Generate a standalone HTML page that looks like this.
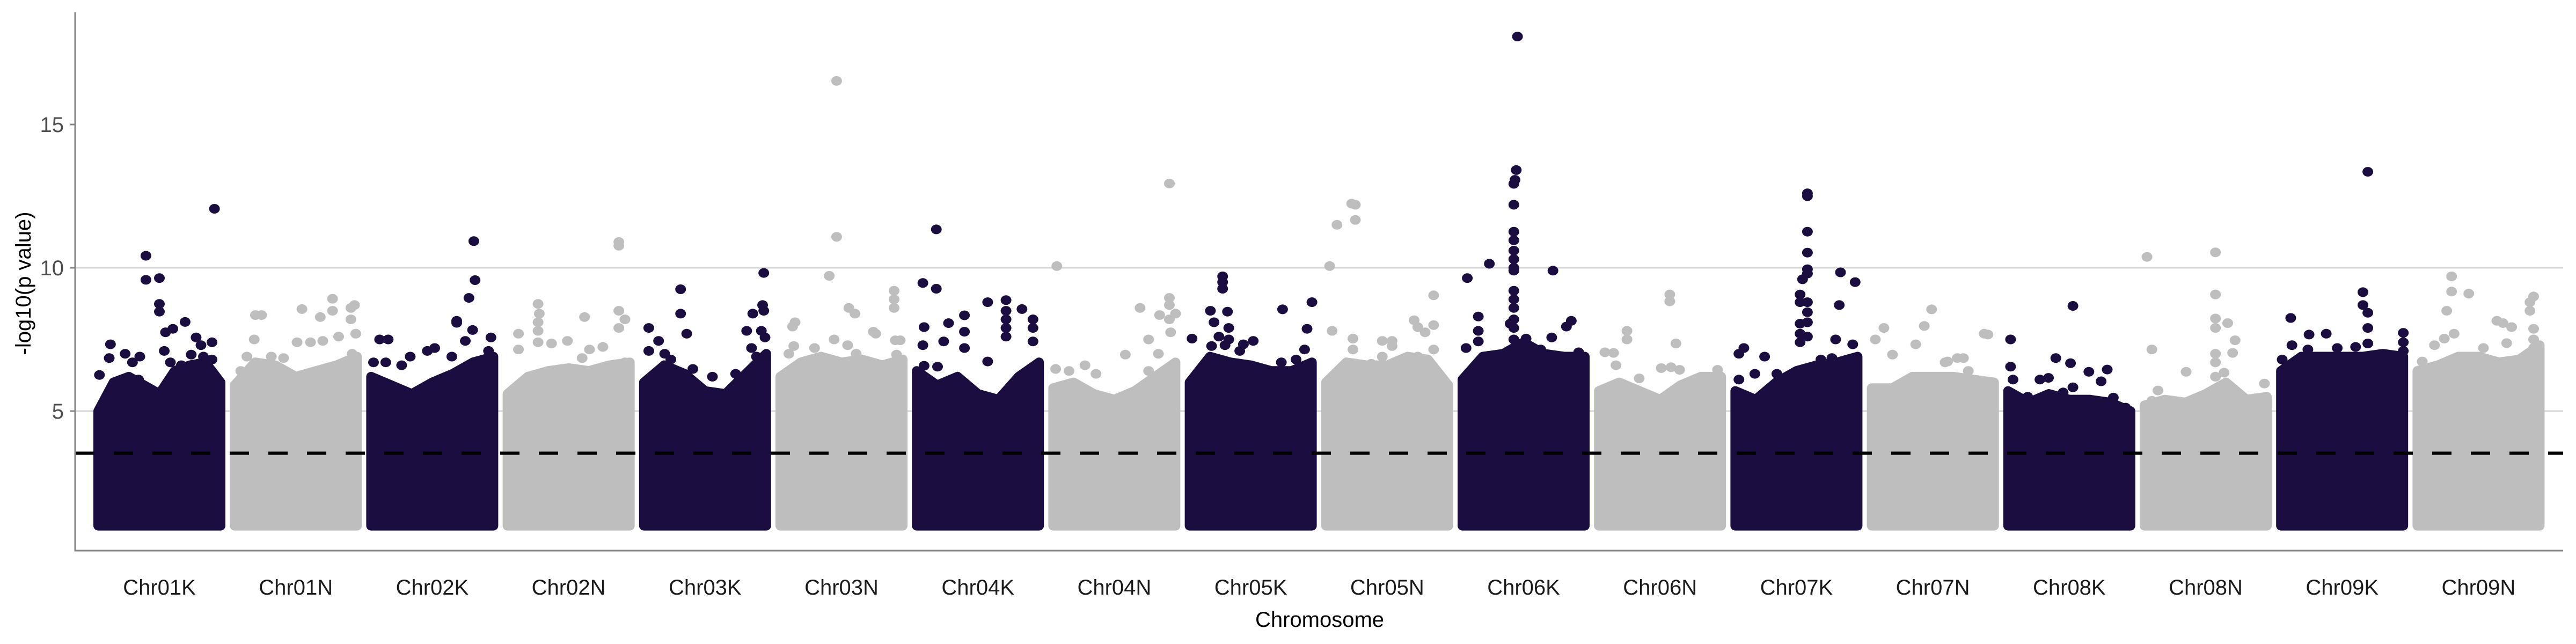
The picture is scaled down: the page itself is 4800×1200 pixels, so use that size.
<!DOCTYPE html>
<html><head><meta charset="utf-8"><style>
html,body{margin:0;padding:0;background:#fff;}
svg{display:block;font-family:"Liberation Sans",Arial,sans-serif;}
</style></head><body>
<svg id="chart" xmlns="http://www.w3.org/2000/svg" width="4800" height="1200" viewBox="0 0 4800 1200">
<g id="grid"></g>
<g id="bulk"></g>
<g id="hits"></g>
<g id="axes"></g>
</svg>
<script>
const chromosomes = ["Chr01K","Chr01N","Chr02K","Chr02N","Chr03K","Chr03N","Chr04K","Chr04N","Chr05K","Chr05N","Chr06K","Chr06N","Chr07K","Chr07N","Chr08K","Chr08N","Chr09K","Chr09N"];
const yTicks = [5,10,15];
const threshold = 3.53;
const envelopes = [
 [5.0,6.0,6.2,5.9,5.6,6.4,6.6,6.7,6.0],
 [5.9,6.7,6.6,6.2,6.4,6.6,6.9],
 [6.2,5.9,5.6,6.0,6.3,6.7,6.9],
 [5.6,6.2,6.4,6.5,6.4,6.6,6.7],
 [6.0,6.6,6.3,5.7,5.6,6.3,7.0],
 [6.2,6.7,6.9,6.7,6.8,6.6,6.8],
 [6.4,5.9,6.2,5.6,5.4,6.2,6.7],
 [5.8,6.0,5.6,5.4,5.7,6.2,6.7],
 [6.0,6.9,6.7,6.6,6.4,6.4,6.7],
 [6.0,6.7,6.6,6.6,6.9,6.8,5.9],
 [6.1,6.9,7.0,7.4,7.0,6.9,6.9],
 [5.7,6.0,5.7,5.4,5.9,6.2,6.2],
 [5.7,5.4,6.0,6.4,6.6,6.7,6.9],
 [5.8,5.8,6.2,6.2,6.2,6.1,6.0],
 [5.7,5.3,5.6,5.4,5.4,5.3,5.0],
 [5.2,5.4,5.3,5.6,6.0,5.4,5.5],
 [6.4,6.9,6.9,6.9,6.9,7.0,6.9],
 [6.4,6.6,6.9,6.9,6.7,6.8,7.3]
];
const hits = [
 [[.95,12.06],[.39,10.42],[.39,9.58],[.50,9.64],[.50,8.74],[.50,8.47],[.71,8.11],[.10,7.33],[.80,7.57],[.93,7.4],[.61,7.87],[.55,7.75],[.01,6.26],[.09,6.85],[.22,7.0],[.34,6.9],[.28,6.7],[.33,6.1],[.76,6.97],[.86,6.9],[.91,6.4],[.68,6.6],[.59,6.7],[.54,7.1],[.93,6.8],[.84,7.3]],
 [[.17,8.35],[.22,8.35],[.55,8.56],[.70,8.28],[.80,8.92],[.80,8.5],[.95,8.6],[.98,8.7],[.95,8.2],[.99,7.7],[.85,7.6],[.16,7.5],[.51,7.4],[.62,7.4],[.72,7.45],[.40,6.85],[.05,6.4],[.38,5.5],[.30,6.9],[.10,6.9],[.96,7.0]],
 [[.84,10.93],[.85,9.57],[.80,8.95],[.70,8.15],[.70,8.08],[.83,7.83],[.77,7.45],[.98,7.57],[.07,7.5],[.14,7.5],[.32,6.9],[.52,7.2],[.46,7.1],[.02,6.7],[.12,6.7],[.66,6.9],[.96,7.1],[.25,6.6]],
 [[.91,10.9],[.91,10.77],[.25,8.74],[.26,8.4],[.63,8.28],[.91,8.5],[.96,8.2],[.91,7.9],[.09,7.7],[.09,7.15],[.25,7.4],[.36,7.36],[.49,7.45],[.67,7.15],[.78,7.24],[.61,6.85],[.96,6.7],[.25,8.1],[.25,7.8]],
 [[.30,9.25],[.30,8.4],[.35,7.7],[.04,7.9],[.12,7.45],[.04,7.1],[.22,6.8],[.40,6.47],[.98,9.82],[.97,8.7],[.89,8.4],[.98,8.5],[.84,7.8],[.96,7.8],[.99,7.57],[.75,6.3],[.56,6.2],[.88,7.2],[.92,6.9],[.17,7.0]],
 [[.46,16.52],[.46,11.08],[.40,9.72],[.93,9.2],[.93,8.9],[.93,8.6],[.56,8.6],[.61,8.4],[.12,8.1],[.10,7.95],[.76,7.77],[.78,7.7],[.44,7.5],[.94,7.47],[.98,7.47],[.11,7.27],[.28,7.2],[.07,7.0],[.95,6.97],[.55,7.3],[.62,7.0]],
 [[.16,11.34],[.05,9.47],[.16,9.27],[.58,8.8],[.73,8.87],[.73,8.5],[.86,8.56],[.95,8.2],[.39,8.34],[.26,8.07],[.06,7.93],[.39,7.77],[.22,7.43],[.05,7.3],[.95,7.43],[.73,7.9],[.58,6.73],[.06,6.58],[.17,6.55],[.73,8.2],[.73,7.6],[.95,7.9],[.39,7.2]],
 [[.03,10.06],[.95,12.94],[.95,8.95],[.95,8.7],[.71,8.6],[.87,8.35],[1.0,8.4],[.96,7.75],[.78,7.5],[.59,6.97],[.02,6.47],[.26,6.6],[.13,6.4],[.35,6.3],[.78,6.4],[.86,7.0],[.95,8.2]],
 [[.27,9.7],[.27,9.5],[.27,9.27],[.17,8.5],[.31,8.47],[.76,8.55],[1.0,8.8],[.96,7.87],[.02,7.53],[.20,8.1],[.32,7.9],[.32,7.5],[.44,7.33],[.52,7.45],[.41,7.1],[.94,7.15],[.87,6.8],[.75,6.7],[.18,7.27],[.24,7.6],[.29,7.3]],
 [[.03,10.06],[.09,11.5],[.21,12.24],[.24,12.2],[.24,11.67],[.88,9.04],[.72,8.17],[.88,8.0],[.75,7.93],[.81,7.75],[.22,7.53],[.46,7.45],[.54,7.45],[.54,7.27],[.22,7.15],[.88,7.15],[.75,6.9],[.46,6.9],[.37,6.65],[.05,7.8]],
 [[.45,18.07],[.44,13.41],[.43,13.07],[.42,12.93],[.42,12.2],[.42,11.26],[.42,10.96],[.42,10.6],[.42,10.3],[.42,10.0],[.42,9.9],[.04,9.64],[.22,10.14],[.74,9.9],[.42,9.2],[.42,8.6],[.42,8.2],[.42,7.5],[.13,8.3],[.13,7.8],[.85,7.95],[.89,8.15],[.52,7.53],[.73,7.57],[.13,7.43],[.03,7.2],[.95,7.05],[.64,7.15],[.39,8.05],[.42,8.9],[.42,7.9]],
 [[.58,9.07],[.58,8.83],[.23,7.8],[.23,7.5],[.63,7.36],[.05,7.05],[.12,7.03],[.51,6.5],[.59,6.53],[.66,6.44],[.97,6.44],[.33,6.14],[.14,6.6]],
 [[.59,12.6],[.59,12.5],[.59,11.26],[.59,10.53],[.59,9.95],[.59,9.8],[.55,9.6],[.86,9.84],[.98,9.5],[.85,8.7],[.53,9.07],[.53,8.8],[.59,8.8],[.59,8.45],[.53,8.05],[.53,7.7],[.53,7.4],[.82,7.5],[.96,7.33],[.70,6.8],[.07,7.2],[.03,7.0],[.24,6.9],[.16,6.3],[.03,6.1],[.34,6.3],[.46,6.14],[.79,6.85],[.59,8.1],[.59,7.6]],
 [[.03,7.5],[.10,7.9],[.49,8.55],[.43,7.97],[.36,7.33],[.17,6.97],[.60,6.7],[.75,6.85],[.92,7.7],[.95,7.67],[.62,6.73],[.70,6.85],[.79,6.4],[.58,6.0]],
 [[.53,8.67],[.02,7.5],[.02,6.55],[.39,6.85],[.51,6.67],[.81,6.45],[.66,6.37],[.76,6.04],[.26,6.1],[.33,6.16],[.04,6.1],[.45,5.65],[.53,5.83],[.86,5.47],[.96,5.12],[.16,5.5]],
 [[.02,10.38],[.58,10.54],[.58,9.07],[.58,8.23],[.58,7.9],[.68,8.07],[.06,7.15],[.74,7.47],[.72,7.03],[.34,6.37],[.65,6.34],[.98,5.96],[.11,5.72],[.06,5.36],[.58,7.0],[.58,6.7],[.58,6.2]],
 [[.71,13.35],[.67,9.15],[.67,8.7],[.71,8.43],[.08,8.25],[.71,7.9],[1.0,7.73],[1.0,7.4],[.99,6.8],[.23,7.67],[.37,7.7],[.09,7.3],[.46,7.2],[.71,7.36],[.61,7.24],[.01,6.8],[.49,6.77],[.22,7.15],[.28,6.9],[1.0,7.1]],
 [[.28,9.7],[.28,9.17],[.42,9.1],[.24,8.5],[.95,9.0],[.92,8.8],[.92,8.5],[.65,8.15],[.70,8.07],[.77,7.93],[.95,7.87],[.30,7.7],[.22,7.53],[.14,7.3],[.73,7.37],[.54,7.2],[.46,6.6],[.04,6.73],[.95,7.5],[.36,6.37],[.95,7.2]]
];
</script>
<script>
const NS = "http://www.w3.org/2000/svg";
const X0 = 140, X1 = 4776, YAXIS = 1026;
const blockStart = 173, blockStep = 254.2, innerW = 228, R = 9;
const DARK = "#1b0d40", LIGHT = "#bebebe";
function yScale(v){ return 1033 - 53.4 * v; }
function xScale(ci, f){ return blockStart + ci * blockStep + 10 + f * innerW; }
function mk(tag, attrs, parent){
  const el = document.createElementNS(NS, tag);
  for (const k in attrs) el.setAttribute(k, attrs[k]);
  parent.appendChild(el);
  return el;
}
const grid = document.getElementById('grid');
const bulk = document.getElementById('bulk');
const hitsG = document.getElementById('hits');
const axes = document.getElementById('axes');

[5,10].forEach(v => {
  const ln = mk('line', {x1:X0, x2:X1, y1:yScale(v), y2:yScale(v), stroke:'#d6d6d6', 'stroke-width':3}, grid);
  
  
});

chromosomes.forEach((name, ci) => {
  const color = ci % 2 === 0 ? DARK : LIGHT;
  const env = envelopes[ci];
  const pts = [];
  pts.push([xScale(ci,0), yScale(1)]);
  env.forEach((v, k) => pts.push([xScale(ci, k/(env.length-1)), yScale(v)]));
  pts.push([xScale(ci,1), yScale(1)]);
  const poly = mk('polygon', {points: pts.map(p => p[0].toFixed(1)+','+p[1].toFixed(1)).join(' '), fill: color, stroke: color, 'stroke-width': 2*R, 'stroke-linejoin':'round'}, bulk);
  
  
  hits[ci].forEach(h => {
    const c = mk('ellipse', {cx: xScale(ci, h[0]).toFixed(1), cy: yScale(h[1]).toFixed(1), rx: 10, ry: 9, fill: color}, hitsG);
    
    
  });
  const t = mk('text', {x: (blockStart + ci*blockStep + 124).toFixed(1), y: 1108, 'font-size': 40, fill: '#1a1a1a', 'text-anchor': 'middle'}, axes);
  t.textContent = name;
  
  
});

const th = mk('line', {x1:X0, x2:X1, y1:yScale(threshold), y2:yScale(threshold), stroke:'#000', 'stroke-width':6, 'stroke-dasharray':'36 36'}, axes);



const ya = mk('line', {x1:X0, x2:X0, y1:23, y2:YAXIS+1, stroke:'#858585', 'stroke-width':3}, axes);


const xa = mk('line', {x1:X0-1.5, x2:X1, y1:YAXIS, y2:YAXIS, stroke:'#858585', 'stroke-width':3}, axes);



yTicks.forEach(v => {
  const tk = mk('line', {x1:X0-9, x2:X0, y1:yScale(v), y2:yScale(v), stroke:'#858585', 'stroke-width':3}, axes);
  
  
  const tl = mk('text', {x: 119, y: yScale(v) + 14, 'font-size': 40, fill: '#4d4d4d', 'text-anchor': 'end'}, axes);
  tl.textContent = v;
  
  
});

const xt = mk('text', {x: 2459, y: 1168, 'font-size': 40, fill: '#000', 'text-anchor': 'middle'}, axes);
xt.textContent = 'Chromosome';


const yt = mk('text', {x: 0, y: 0, 'font-size': 40, fill: '#000', 'text-anchor': 'middle', transform: 'translate(57,528) rotate(-90)'}, axes);
yt.textContent = '-log10(p value)';


</script>
</body></html>
